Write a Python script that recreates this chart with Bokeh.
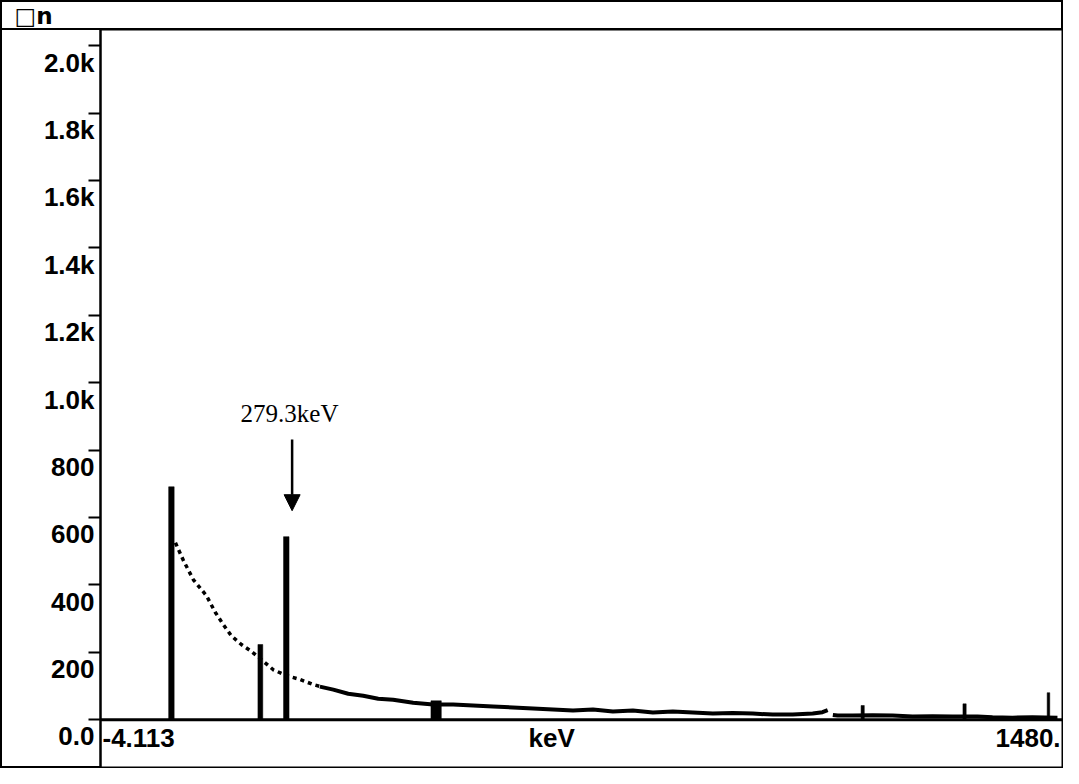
from bokeh.plotting import figure
from bokeh.models import Range1d, FixedTicker, Span, Arrow, NormalHead, ColumnDataSource
from bokeh.embed import file_html
from bokeh.resources import INLINE
from bokeh.core.properties import value

# ---------------- data ----------------
title_text = "□n"
annot_text = "279.3keV"
x_min, x_max = -4.113, 1480.0
x_tick_texts = ["-4.113", "keV", "1480."]

y_ticks = [0, 200, 400, 600, 800, 1000, 1200, 1400, 1600, 1800, 2000]
y_tick_labels = ["0.0", "200", "400", "600", "800", "1.0k", "1.2k", "1.4k", "1.6k", "1.8k", "2.0k"]

# full-energy peaks
peak_keV = [105.5, 243.0, 283.1, 514.7, 1174.1, 1331.6, 1461.3]
peak_counts = [691, 223, 543, 56, 42, 47, 80]
peak_width_keV = [8.5, 7.5, 8.5, 16.0, 5.0, 5.0, 4.0]

# Compton continuum, sparse (dotted) part
cont1_keV = [111.7, 124.1, 139.5, 159.6, 173.5, 185.8, 198.2, 213.6, 227.5,
             244.5, 263.0, 283.1, 304.7, 324.8, 340.0]
cont1_counts = [525, 472, 415, 368, 318, 282, 249, 223, 205,
                178, 148, 131, 119, 104, 96]

# continuum, dense (solid noisy) part
cont2_keV = [335.0, 355.7, 378.8, 402.0, 425.2, 448.3, 479.2, 510.1, 541.0, 571.9,
             602.7, 633.6, 664.5, 695.4, 726.3, 757.2, 788.0, 818.9, 849.8, 880.7,
             911.6, 942.5, 973.3, 1004.2, 1035.1, 1066.0, 1096.9, 1112.0, 1120.0]
cont2_counts = [98, 89, 77, 71, 62, 59, 50, 45, 45, 42,
                39, 36, 33, 30, 27, 30, 24, 27, 21, 24,
                21, 18, 20, 18, 15, 15, 18, 22, 28]
cont3_keV = [1128.0, 1135.5, 1158.6, 1189.5, 1220.4, 1251.3, 1282.1, 1313.0,
             1351.6, 1374.8, 1405.7, 1436.6, 1475.2]
cont3_counts = [14, 12, 12, 13, 12, 9, 10, 9, 9, 7, 6, 7, 6]

# ---------------- layout ----------------
W = 1063
H = 768
TOP = 29
FRAME_H = H - TOP - 1
y_start, y_end = -142.0, 2048.0
px_count = FRAME_H / (y_end - y_start)

p = figure(width=W, height=H, x_range=Range1d(x_min, x_max + 3.0),
           y_range=Range1d(y_start, y_end), toolbar_location=None, output_backend="svg",
           x_axis_location=None, y_axis_location="left",
           min_border_left=100, min_border_right=1, min_border_top=TOP, min_border_bottom=1,
           border_fill_color=None, background_fill_color="white",
           styles={"outline": "2px solid black", "outline-offset": "-2px",
                   "background": "linear-gradient(black, black) 0 %dpx / 100%% 2px no-repeat, white" % (TOP - 1)})
p.grid.visible = False
p.outline_line_color = "black"
p.outline_line_width = 2

p.title.text = title_text
p.title.align = "left"
p.title.offset = -86
p.title.standoff = 1
p.title.text_font = "DejaVu Sans"
p.title.text_font_style = "bold"
p.title.text_font_size = "23px"
p.title.text_color = "black"

lab_off = round(17 / px_count)
ax = p.yaxis[0]
ax.ticker = FixedTicker(ticks=[v - lab_off for v in y_ticks], minor_ticks=y_ticks)
ax.major_label_overrides = {v - lab_off: t for v, t in zip(y_ticks, y_tick_labels)}
ax.major_tick_line_color = None
ax.major_tick_out = 0
ax.major_tick_in = 0
ax.minor_tick_out = 12
ax.minor_tick_in = 0
ax.minor_tick_line_color = "black"
ax.minor_tick_line_width = 2
ax.axis_line_color = "black"
ax.axis_line_width = 2
ax.major_label_standoff = -6
ax.major_label_text_font = "Liberation Sans"
ax.major_label_text_font_style = "bold"
ax.major_label_text_font_size = "26px"
ax.major_label_text_color = "black"

# baseline
p.add_layout(Span(location=0, dimension="width", line_color="black", line_width=3))

# continuum
p.line(cont1_keV, cont1_counts, line_color="black", line_width=3.5, line_dash="4 4")
p.line(cont2_keV, cont2_counts, line_color="black", line_width=4)
p.line(cont3_keV, cont3_counts, line_color="black", line_width=4)

# peaks
src = ColumnDataSource(dict(x=peak_keV, top=peak_counts, w=peak_width_keV))
p.vbar(x="x", top="top", bottom=0, width="w", source=src, fill_color="black",
       line_color="black", line_width=0.5)

# x labels
lab_y = -round(18 / px_count)
xs = [x_min, x_min + 0.47 * (x_max - x_min), x_max]
for xv, t, al, off in zip(xs, x_tick_texts, ["left", "center", "right"], [2, 0, 0]):
    p.text(x=[xv], y=[lab_y], text=[t], text_align=al, text_baseline="middle",
           x_offset=off, text_font=value("Liberation Sans"), text_font_style="bold",
           text_font_size="26px", text_color="black")

# annotation arrow + text
ann_x = peak_keV[2] + 9.0
p.add_layout(Arrow(end=NormalHead(size=16, fill_color="black", line_color="black"),
                   x_start=ann_x, y_start=peak_counts[2] + 288, x_end=ann_x, y_end=peak_counts[2] + 77,
                   line_color="black", line_width=2.5))
p.text(x=[ann_x - 4.0], y=[peak_counts[2] + 365], text=[annot_text], text_align="center",
       text_baseline="middle", text_font=value("Liberation Serif"), text_font_size="25px",
       text_color="black")

open("out.html", "w").write(file_html(p, INLINE))
